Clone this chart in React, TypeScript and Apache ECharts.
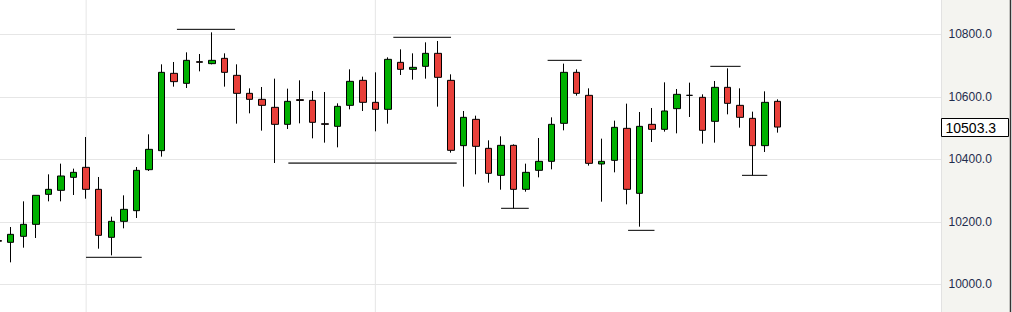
import React, { useEffect, useRef } from "react";
import * as echarts from "echarts";

// ---- data ----
const slotCount = 76; // category slots across the plot (including empty ones on the right)
const categories: string[] = Array.from({ length: slotCount }, (_, i) => "D" + i);

const opens = [
  10140, 10134.4, 10153.6, 10192, 10288, 10300.8, 10342.4, 10374.4, 10304, 10150.4,
  10201.6, 10235.7, 10366.9, 10427.8, 10675.2, 10643.2, 10712.5, 10706.2, 10723.2, 10668.8,
  10611.2, 10592, 10566.4, 10512, 10591, 10588.8, 10514, 10505.6, 10572.8, 10652.8,
  10582.4, 10560, 10710.4, 10688, 10697.6, 10739.2, 10652.8, 10443.8, 10528, 10435.2,
  10348.8, 10444.8, 10304, 10364.8, 10393.6, 10515.2, 10678.4, 10604.8, 10385.1, 10396.8,
  10499.2, 10291.2, 10512, 10496, 10562.2, 10604.8, 10598.4, 10521.6, 10630.4, 10572.8,
  10531.2, 10443.8, 10585.6,
];
const closes = [
  10138, 10160, 10192, 10284.8, 10304, 10346.7, 10358.4, 10304, 10156.8, 10201.6,
  10240, 10364.8, 10432, 10678.4, 10648.6, 10716.8, 10710.5, 10716.8, 10678.4, 10611.2,
  10592, 10572.8, 10512, 10585.6, 10588.5, 10518.4, 10512, 10569.6, 10649.6, 10582.4,
  10560, 10720, 10688, 10694.4, 10739.2, 10662.4, 10428.8, 10534.4, 10441.6, 10355.2,
  10444.8, 10304, 10358.4, 10393.6, 10512, 10678.4, 10611.2, 10387.2, 10393.6, 10502.4,
  10304, 10505.6, 10496, 10554.7, 10608, 10604.8, 10492.8, 10630.4, 10579.2, 10534.4,
  10443.8, 10582.4, 10503.3,
];
const lows = [
  10110, 10070.4, 10117.3, 10148.3, 10265.6, 10265.6, 10285.9, 10274.1, 10114.1, 10092.8,
  10179.2, 10212.3, 10362.7, 10408.6, 10632.6, 10628.3, 10681.6, 10704, 10632.6, 10514.2,
  10547.2, 10491.8, 10388.3, 10497.1, 10515.2, 10467.2, 10453.4, 10438.4, 10560, 10554.7,
  10489.6, 10514.2, 10669.9, 10655, 10658.2, 10568.6, 10421.4, 10312.5, 10352, 10325.4,
  10302.9, 10243.2, 10296.5, 10342.4, 10368, 10492.8, 10603.8, 10379.8, 10264.5, 10358.4,
  10256, 10184.5, 10455.5, 10488.6, 10483.2, 10535.5, 10450.2, 10453.4, 10544, 10501.4,
  10348.8, 10423.5, 10485.4,
];
const highs = [
  10160, 10183.5, 10265.6, 10285, 10352, 10386.2, 10370.2, 10471.5, 10343.5, 10216.5,
  10284.8, 10375.5, 10480, 10704, 10711.5, 10742.4, 10737.1, 10806.4, 10739.2, 10704,
  10627.2, 10631.5, 10658.2, 10626.2, 10652.8, 10618.7, 10615.5, 10579.2, 10688, 10664.6,
  10678.4, 10726.4, 10752, 10739.2, 10774.4, 10778.7, 10672, 10554.7, 10539.8, 10460.8,
  10473.6, 10448, 10386.2, 10468.3, 10534.4, 10706.2, 10688, 10627.2, 10466.2, 10523.8,
  10578.2, 10551.5, 10564.3, 10646.4, 10625.1, 10645.4, 10608, 10650.7, 10691.2, 10627.2,
  10552.6, 10617.6, 10592,
];

// horizontal support / resistance segments (start slot, end slot, price)
const segStarts = [14.22, 6.99, 31.43, 23.08, 40.0, 43.7, 50.1, 56.64, 59.16];
const segEnds = [18.84, 11.42, 36.02, 36.47, 42.2, 46.41, 52.2, 59.05, 61.17];
const segValues = [10816, 10086.5, 10790.5, 10388, 10243.3, 10716.8, 10172.8, 10697.6, 10348.8];
const segIsGray = [false, false, false, true, false, false, false, false, false];

// vertical separators (slot index)
const separatorSlots = [7, 30];

const yTicks = { min: 9800, max: 11000, interval: 200 };
const lastPrice = 10503.3;

// the chart canvas is bigger than the page and shifted up/left, so that the
// plotting area can start slightly outside the visible window
const OFF_X = 20;
const OFF_Y = 40;

export default function App() {
  const ref = useRef<HTMLDivElement>(null);

  useEffect(() => {
    if (!ref.current) return;
    const chart = echarts.init(ref.current, undefined, { renderer: "svg" });

    const candleData = opens.map((o, i) => [o, closes[i], lows[i], highs[i]]);

    const segSeries = segStarts.map((s, i) => ({
      type: "line",
      xAxisIndex: 1,
      yAxisIndex: 0,
      data: [
        [s, segValues[i]],
        [segEnds[i], segValues[i]],
      ],
      symbol: "none",
      silent: true,
      z: 4,
      lineStyle: { color: segIsGray[i] ? "#555555" : "#000000", width: segIsGray[i] ? 1.6 : 1 },
    }));

    const sepSeries = separatorSlots.map((s) => ({
      type: "line",
      xAxisIndex: 1,
      yAxisIndex: 0,
      data: [
        [s, yTicks.min],
        [s, yTicks.max],
      ],
      symbol: "none",
      silent: true,
      z: 1,
      lineStyle: { color: "#e6e6e6", width: 1 },
    }));

    chart.setOption({
      animation: false,
      backgroundColor: "#ffffff",
      grid: {
        left: OFF_X - 8.157,
        top: OFF_Y - 28.17,
        width: 955.62,
        height: 375,
        containLabel: false,
      },
      xAxis: [
        {
          type: "category",
          data: categories,
          boundaryGap: true,
          axisLine: { show: false },
          axisTick: { show: false },
          axisLabel: { show: false },
          splitLine: { show: false },
        },
        {
          type: "value",
          min: -0.5,
          max: slotCount - 0.5,
          show: false,
        },
      ],
      yAxis: [
        {
          type: "value",
          position: "right",
          min: yTicks.min,
          max: yTicks.max,
          interval: yTicks.interval,
          axisLine: { show: false },
          axisTick: { show: false },
          axisLabel: { show: false },
          splitLine: { show: true, lineStyle: { color: "#e6e6e6", width: 1 } },
        },
        {
          type: "value",
          position: "right",
          min: yTicks.min,
          max: yTicks.max,
          interval: yTicks.interval,
          z: 10,
          axisLine: { show: false },
          axisTick: { show: false },
          splitLine: { show: false },
          axisLabel: {
            show: true,
            margin: 1,
            showMinLabel: false,
            showMaxLabel: false,
            color: "#1f2d4d",
            fontSize: 12,
            fontFamily: "Liberation Sans, Arial, sans-serif",
            formatter: (v: number) => v.toFixed(1),
          },
        },
      ],
      series: [
        ...sepSeries,
        {
          type: "candlestick",
          xAxisIndex: 0,
          yAxisIndex: 0,
          data: candleData,
          barWidth: 7,
          z: 3,
          itemStyle: {
            color: "#00b000",
            color0: "#e8403a",
            borderColor: "#000000",
            borderColor0: "#000000",
            borderColorDoji: "#000000",
            borderWidth: 1,
          },
        },
        ...segSeries,
      ],
    });

    const py = chart.convertToPixel({ yAxisIndex: 0 }, lastPrice) as number;

    chart.setOption({
      graphic: [
        {
          type: "rect",
          z: 5,
          silent: true,
          shape: { x: OFF_X + 941, y: 0, width: 69, height: OFF_Y + 400 },
          style: { fill: "#f4f4f0" },
        },
        {
          type: "line",
          z: 6,
          silent: true,
          shape: { x1: OFF_X + 941.5, y1: 0, x2: OFF_X + 941.5, y2: OFF_Y + 400 },
          style: { stroke: "#e2e2e2", lineWidth: 1 },
        },
        {
          type: "line",
          z: 6,
          silent: true,
          shape: { x1: OFF_X + 1010.5, y1: 0, x2: OFF_X + 1010.5, y2: OFF_Y + 400 },
          style: { stroke: "#333333", lineWidth: 1.5 },
        },
        {
          type: "rect",
          z: 11,
          silent: true,
          shape: { x: OFF_X + 941.5, y: Math.round(py) - 9 + 0.5, width: 67, height: 18 },
          style: { fill: "#ffffff", stroke: "#000000", lineWidth: 1 },
        },
        {
          type: "text",
          z: 12,
          silent: true,
          x: OFF_X + 945.5,
          y: py + 0.5,
          style: {
            text: lastPrice.toFixed(1),
            fill: "#000000",
            fontSize: 14,
            fontFamily: "Liberation Sans, Arial, sans-serif",
            textVerticalAlign: "middle",
            textAlign: "left",
          },
        },
      ],
    });

    return () => chart.dispose();
  }, []);

  return (
    <div
      ref={ref}
      style={{
        position: "fixed",
        left: -OFF_X,
        top: -OFF_Y,
        width: 1012 + OFF_X + 10,
        height: 312 + OFF_Y + 60,
        background: "#ffffff",
      }}
    />
  );
}
